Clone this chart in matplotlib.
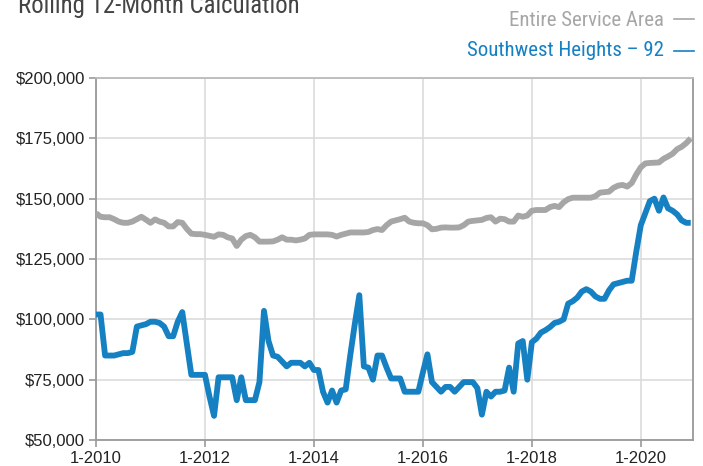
import matplotlib
matplotlib.use("Agg")
import matplotlib.pyplot as plt
from matplotlib import font_manager
import numpy as np

title = "Rolling 12-Month Calculation"
series_names = ["Entire Service Area", "Southwest Heights \u2013 92"]
tick_labels = ["1-2010", "1-2012", "1-2014", "1-2016", "1-2018", "1-2020"]
tick_months = [0, 24, 48, 72, 96, 120]
y_ticks = [50000, 75000, 100000, 125000, 150000, 175000, 200000]

# monthly values in $1000s, Jan 2010 .. Dec 2020
entire_area = [
    144, 142.5, 142.3, 142.3, 141.5, 140.5, 140, 140, 140.5, 141.5, 142.5, 141.3,
    140, 141.4, 140.5, 140, 138.5, 138.5, 140.3, 140, 137.5, 135.5, 135.3, 135.3,
    135, 134.6, 134.2, 135.2, 135, 134, 133.5, 130.4, 133, 134.5, 135, 134,
    132.2, 132.2, 132.2, 132.3, 133, 134, 133, 133, 132.7, 133, 133.5, 135,
    135.2, 135.2, 135.2, 135.2, 135, 134.3, 135, 135.5, 136, 136, 136, 136,
    136.2, 137, 137.4, 137, 139, 140.5, 141, 141.5, 142.1, 140.5, 140, 139.8,
    139.8, 139, 137.3, 137.5, 138, 138.1, 138, 138, 138.1, 139, 140.5, 140.8,
    141, 141.2, 142, 142.3, 140.5, 141.7, 141.5, 140.5, 140.5, 143, 142.5, 143,
    145, 145.3, 145.3, 145.3, 146.5, 147, 146.5, 148.5, 149.8, 150.4, 150.4, 150.4,
    150.4, 150.4, 151, 152.5, 152.7, 152.9, 154.5, 155.4, 155.7, 155, 156.5, 160,
    163, 164.6, 164.8, 164.9, 165, 166.5, 167.5, 168.6, 170.5, 171.5, 173, 175,
]
southwest_heights = [
    102, 102, 85, 85, 85, 85.5, 86, 86, 86.5, 97, 97.5, 98,
    99, 99, 98.5, 97, 93, 93, 99, 103, 90, 77, 77, 77,
    77, 68, 60, 76, 76, 76, 76, 66.5, 76, 66.5, 66.5, 66.5,
    74, 103.5, 91, 85, 84.5, 82.5, 80.5, 82, 82, 82, 80.5, 82,
    79, 79, 70, 65.5, 70.5, 65.5, 70.5, 71, 85, 98, 110, 80.5,
    80, 75, 85, 85, 80, 75.5, 75.5, 75.5, 70, 70, 70, 70,
    78, 85.5, 74, 72, 70, 72, 72, 70, 72, 74, 74, 74,
    71.5, 60.5, 70, 68, 70, 70, 70.5, 80, 70, 90, 91, 75,
    90.5, 92, 94.5, 95.5, 96.8, 98.5, 99, 100, 106.5, 107.5, 109, 111.5,
    112.5, 111.5, 109.5, 108.5, 108.5, 112, 114.5, 115, 115.5, 116, 116, 128,
    139, 144, 149, 150, 145, 150.5, 146, 145, 143.5, 141, 140, 140,
]

GRAY = "#a6a6a6"
BLUE = "#1580c2"

# pick a condensed font if one is installed
fonts = font_manager.fontManager.ttflist
names = {f.name for f in fonts}
cond_family, cond_stretch = None, "normal"
for cand in ["Liberation Sans Narrow", "Roboto Condensed", "Open Sans Condensed",
             "Arial Narrow", "Noto Sans Display"]:
    if cand in names:
        cond_family = cand
        break
if cond_family is None:
    dv = [f for f in fonts if f.name == "DejaVu Sans" and
          str(f.stretch) in ("condensed", "semi-condensed", "587", "500")]
    if dv and any(str(f.stretch) != "normal" for f in dv):
        cond_family = "DejaVu Sans"
        cond_stretch = "condensed"
if cond_family is None:
    cond_family = "Liberation Sans"
narrow = [cond_family, "Liberation Sans", "DejaVu Sans"]
is_fallback = cond_family == "Liberation Sans"

fig = plt.figure(figsize=(7.03, 4.66), dpi=100)
ax = fig.add_axes([96 / 703, 1 - 440 / 466, 597 / 703, (440 - 78) / 466])

months = np.arange(len(entire_area))
ax.plot(months, np.array(entire_area) * 1000, color=GRAY, lw=4.2,
        solid_joinstyle="round", solid_capstyle="butt", zorder=3)
ax.plot(months, np.array(southwest_heights) * 1000, color=BLUE, lw=4.2,
        solid_joinstyle="round", solid_capstyle="butt", zorder=4)

ax.set_xlim(0, 131.5)
ax.set_ylim(50000, 200000)
ax.set_xticks(tick_months)
ax.set_xticklabels(tick_labels)
ax.set_yticks(y_ticks)
ax.set_yticklabels(["${:,.0f}".format(v) for v in y_ticks])
ax.grid(True, color="#dcdcdc", lw=1.2, zorder=0)
ax.set_axisbelow(True)
for s in ax.spines.values():
    s.set_color("#999999")
    s.set_linewidth(1.3)
ax.spines["top"].set_color("#bbbbbb")
ax.tick_params(axis="both", colors="#999999", length=5, width=1.2,
               labelcolor="#222222", labelsize=12, pad=3)
for lab in ax.get_xticklabels() + ax.get_yticklabels():
    lab.set_family(["Liberation Sans", "DejaVu Sans"])

fig.text(18 / 703, 1 - 13 / 466, title, fontsize=15 if is_fallback else 17.9,
         color="#444444", family=narrow, stretch=cond_stretch,
         ha="left", va="baseline")

leg_size = 13 if is_fallback else 15
for name, col, yb, yd in [(series_names[0], GRAY, 26, 19), (series_names[1], BLUE, 56, 51)]:
    fig.text(664 / 703, 1 - yb / 466, name, fontsize=leg_size, color=col,
             family=narrow, stretch=cond_stretch, ha="right", va="baseline")
    fig.add_artist(plt.Line2D([674 / 703, 694 / 703], [1 - yd / 466, 1 - yd / 466],
                              transform=fig.transFigure, color=col, lw=1.2))

fig.savefig("out.png", dpi=100)
